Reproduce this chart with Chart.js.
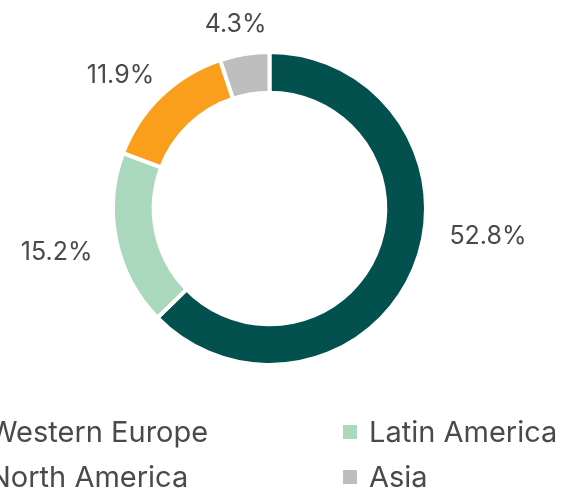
<!DOCTYPE html>
<html><head><meta charset="utf-8">
<script src="https://cdn.jsdelivr.net/npm/chart.js@4.4.1/dist/chart.umd.min.js"></script>
<style>html,body{margin:0;padding:0;background:#fff;overflow:hidden}#wrap{width:565px;height:491px;position:relative}</style>
</head><body><div id="wrap"><canvas id="c" width="565" height="491"></canvas></div>
<script>
const categories = ['Western Europe', 'Latin America', 'North America', 'Asia'];
const shares = [52.8, 15.2, 11.9, 4.3];
const percentLabels = ['52.8%', '15.2%', '11.9%', '4.3%'];
const colors = ['#02514F', '#A9D8BD', '#F99F1C', '#BEBEBE'];

const FONT_FAMILY = 'Inter, "Open Sans", sans-serif';
const TEXT_COLOR = '#4a4a4a';

const outsideLabels = {
  id: 'outsideLabels',
  afterDatasetsDraw(chart, args, opts) {
    const meta = chart.getDatasetMeta(0);
    const ctx = chart.ctx;
    ctx.save();
    ctx.font = opts.font;
    ctx.fillStyle = opts.color;
    ctx.textBaseline = 'middle';
    ctx.textAlign = 'center';
    meta.data.forEach((arc, i) => {
      const p = arc.getProps(['x', 'y', 'startAngle', 'endAngle', 'outerRadius'], true);
      const mid = (p.startAngle + p.endAngle) / 2 + (opts.nudge[i] || 0) * Math.PI / 180;
      const h = Math.cos(mid), v = Math.sin(mid);
      const r = p.outerRadius + opts.gap;
      const ax = p.x + h * r, ay = p.y + v * r;
      const txt = percentLabels[i];
      const w = ctx.measureText(txt).width;
      ctx.fillText(txt, ax + h * w / 2, ay + v * opts.textHeight / 2 + opts.dy);
    });
    ctx.restore();
  }
};

const gridLegend = {
  id: 'gridLegend',
  afterDraw(chart, args, opts) {
    const ctx = chart.ctx;
    ctx.save();
    ctx.font = opts.font;
    ctx.textBaseline = 'middle';
    ctx.textAlign = 'left';
    chart.data.labels.forEach((lab, i) => {
      const col = i % 2, row = Math.floor(i / 2);
      const x = opts.cols[col], y = opts.rows[row];
      ctx.fillStyle = chart.data.datasets[0].backgroundColor[i];
      ctx.fillRect(x, y - opts.box / 2, opts.box, opts.box);
      ctx.fillStyle = opts.color;
      ctx.fillText(lab, x + opts.box + opts.textGap, y + 1);
    });
    ctx.restore();
  }
};

new Chart(document.getElementById('c'), {
  type: 'doughnut',
  data: {
    labels: categories,
    datasets: [{
      data: shares,
      backgroundColor: colors,
      borderColor: '#ffffff',
      borderWidth: 4,
      hoverOffset: 0
    }]
  },
  options: {
    responsive: false,
    animation: false,
    cutout: '74%',
    layout: { padding: { top: 50, bottom: 124, left: 0, right: 26 } },
    plugins: {
      legend: { display: false },
      tooltip: { enabled: false },
      outsideLabels: { font: '25px ' + FONT_FAMILY, color: TEXT_COLOR, gap: 25, textHeight: 20, dy: 5, nudge: [-16, 0, 0, 0] },
      gridLegend: { font: '29px ' + FONT_FAMILY, color: TEXT_COLOR, cols: [-37, 343], rows: [432, 477], box: 14, textGap: 12 }
    }
  },
  plugins: [outsideLabels, gridLegend]
});
</script>
</body></html>
